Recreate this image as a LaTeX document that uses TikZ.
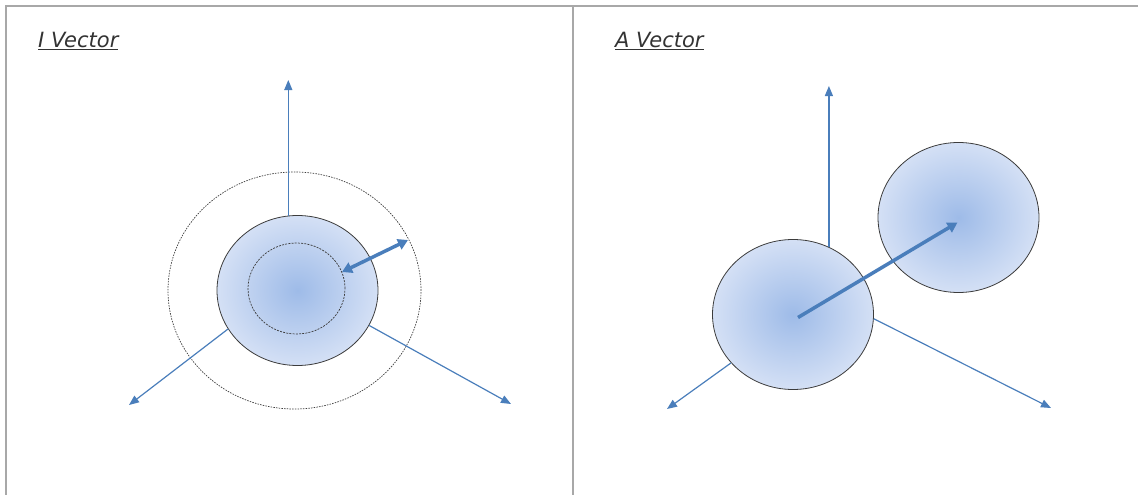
\documentclass[tikz,border=0pt]{standalone}
\usepackage{fontspec}
\setsansfont{DejaVu Sans}
\usepackage{tikz}
\usetikzlibrary{arrows.meta,positioning,calc,shapes.geometric}
\definecolor{axisblue}{RGB}{74,126,187}
\definecolor{ballin}{RGB}{158,187,232}
\definecolor{ballout}{RGB}{212,224,245}
\definecolor{rim}{RGB}{60,60,60}
\definecolor{framegray}{RGB}{168,168,168}
\begin{document}
\begin{tikzpicture}[x=1pt, y=-1pt,
  ball/.style={ellipse, draw=rim, line width=0.8pt, inner sep=0pt,
    minimum width=161pt, minimum height=150pt, inner color=ballin, outer color=ballout},
  ring/.style={ellipse, draw=rim, line width=0.7pt, inner sep=0pt},
  axis/.style={draw=axisblue, line width=1.2pt, -{Triangle[length=10pt, width=8pt]}},
  push/.style={draw=axisblue, line width=3.5pt, -{Triangle[length=10pt, width=11pt]}},
  title/.style={anchor=base west, inner sep=0pt, text=black!80, font=\sffamily\itshape\fontsize{21}{24}\selectfont},
  frame/.style={draw=framegray, line width=1.6pt}]
\useasboundingbox (0,0) rectangle (1138,495);
% panel frame
\draw[frame] (1138,6) -- (6,6) -- (6,495);
\draw[frame] (573,6) -- (573,495);
% left panel: I Vector
\node[title] (ti) at (38,48) {\underline{I Vector}};
\node[ring, dash pattern=on 1.5pt off 1.2pt, minimum width=253pt, minimum height=237pt] (outer) at (294.5,290.5) {};
\node[ball] (ci) at (297.5,290.5) {};
\node[ring, dash pattern=on 2pt off 1.2pt, minimum width=97pt, minimum height=91pt] (inner) at (296.5,288.5) {};
\coordinate (upI) at (288,80);
\coordinate (llI) at (129,405);
\coordinate (lrI) at (511,404);
\draw[axis] (ci.97) -- (ci.97 |- upI);
\draw[axis] (ci.209) -- (llI);
\draw[axis] (ci.334) -- (lrI);
\coordinate (dinA) at (342,272);
\coordinate (doutA) at (408,240);
\draw[push, {Triangle[length=10pt, width=11pt]}-{Triangle[length=10pt, width=11pt]}] (dinA) -- (doutA);
% right panel: A Vector
\node[title] (ta) at (615,48) {\underline{A Vector}};
\node[ball] (ca) at (793,314.5) {};
\node[ball] (cb) at (958.5,217.5) {};
\coordinate (upA) at (828,86);
\coordinate (llA) at (667,409);
\coordinate (lrA) at (1051,408);
\draw[axis] (ca.62) -- (ca.62 |- upA);
\draw[axis] (ca.218) -- (llA);
\draw[axis] (ca.-3) -- (lrA);
\draw[push] (ca.center) ++(5,3) coordinate (pa) (pa) -- ($(cb.center)+(-1,5)$);
\end{tikzpicture}
\end{document}
